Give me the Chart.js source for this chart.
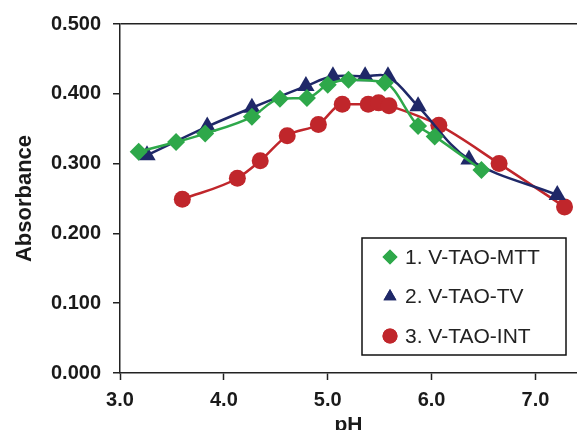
<!DOCTYPE html>
<html>
<head>
<meta charset="utf-8">
<script src="https://cdn.jsdelivr.net/npm/chart.js@4.4.0/dist/chart.umd.min.js"></script>
<style>
	html, body { margin: 0; padding: 0; background: #fff; overflow: hidden; }
</style>
</head>
<body>
<canvas id="myChartPH" width="577" height="438"></canvas>
<script>
// pH values and absorbance for each complex
var phMTT = [3.18, 3.54, 3.82, 4.27, 4.54, 4.80, 5.00, 5.20, 5.55, 5.87, 6.03, 6.48];
var absMTT = [0.317, 0.331, 0.343, 0.367, 0.393, 0.394, 0.413, 0.420, 0.416, 0.354, 0.339, 0.291];

var phTV = [3.26, 3.84, 4.27, 4.79, 5.05, 5.36, 5.58, 5.87, 6.36, 7.21];
var absTV = [0.312, 0.353, 0.380, 0.411, 0.425, 0.425, 0.425, 0.382, 0.306, 0.255];

var phINT = [3.60, 4.13, 4.35, 4.61, 4.91, 5.14, 5.39, 5.49, 5.59, 6.07, 6.65, 7.28];
var absINT = [0.249, 0.279, 0.304, 0.340, 0.356, 0.385, 0.385, 0.387, 0.383, 0.355, 0.300, 0.238];

var seriesNames = ['1. V-TAO-MTT', '2. V-TAO-TV', '3. V-TAO-INT'];
var xTicks = [3, 4, 5, 6, 7];

function toPoints(xs, ys) {
	var out = [];
	xs.forEach(function (x, i) {
		out.push({ x: x, y: ys[i] });
	});
	return out;
}

var green = '#2ea84a';
var navy = '#1f2868';
var red = '#c0262b';
var fontFam = '"Liberation Sans", Arial, sans-serif';

// legend drawn inside the plot, bottom right, boxed
var boxLegend = {
	id: 'boxLegend',
	afterDraw: function (chart) {
		var c = chart.ctx;
		var x0 = 362, y0 = 238, w = 204, h = 117;
		c.save();
		c.fillStyle = '#fff';
		c.fillRect(x0, y0, w, h);
		c.strokeStyle = '#111';
		c.lineWidth = 1.5;
		c.strokeRect(x0, y0, w, h);
		c.font = '21px ' + fontFam;
		c.textBaseline = 'middle';
		chart.data.datasets.forEach(function (ds, i) {
			var cy = y0 + 19 + i * 39.5;
			c.fillStyle = ds.backgroundColor;
			Chart.helpers.drawPoint(c, { pointStyle: ds.pointStyle, radius: 7.5, borderWidth: 0 }, x0 + 28, cy);
			c.fill();
			c.fillStyle = '#222';
			c.fillText(ds.label, x0 + 43, cy + 1);
		});
		c.restore();
	}
};

var ctx = document.getElementById('myChartPH');
var myChart = new Chart(ctx, {
	type: 'line',
	data: {
		datasets: [
			{
				label: seriesNames[0],
				data: toPoints(phMTT, absMTT),
				borderColor: green,
				backgroundColor: green,
				pointStyle: 'rectRot',
				pointRadius: 9,
				pointBorderWidth: 0,
				borderWidth: 2.5,
				cubicInterpolationMode: 'monotone',
			},
			{
				label: seriesNames[1],
				data: toPoints(phTV, absTV),
				borderColor: navy,
				backgroundColor: navy,
				pointStyle: 'triangle',
				pointRadius: 10,
				pointBorderWidth: 0,
				borderWidth: 2.5,
				tension: 0.35,
			},
			{
				label: seriesNames[2],
				data: toPoints(phINT, absINT),
				borderColor: red,
				backgroundColor: red,
				pointStyle: 'circle',
				pointRadius: 8.5,
				pointBorderWidth: 0,
				borderWidth: 2.5,
				cubicInterpolationMode: 'monotone',
			},
		],
	},
	options: {
		responsive: false,
		animation: false,
		layout: { autoPadding: false, padding: { top: 24, right: 0, left: 4, bottom: 0 } },
		plugins: {
			legend: { display: false },
			tooltip: { enabled: false },
		},
		scales: {
			x: {
				type: 'linear',
				min: 3,
				max: 7.4,
				afterBuildTicks: function (scale) {
					scale.ticks = xTicks.map(function (v) { return { value: v }; });
				},
				afterFit: function (scale) { scale.height = 65; },
				ticks: {
					color: '#1a1a1a',
					font: { family: fontFam, size: 20, weight: 'bold' },
					padding: 8,
					maxRotation: 0,
					callback: function (v) { return v.toFixed(1); },
				},
				grid: { drawOnChartArea: false, tickLength: 7, tickColor: '#222', tickWidth: 1.5 },
				border: { color: '#222', width: 1.5 },
				title: {
					display: true,
					text: 'pH',
					color: '#1a1a1a',
					font: { family: fontFam, size: 21, weight: 'bold' },
					padding: { top: 0, bottom: 0 },
				},
			},
			y: {
				min: 0,
				max: 0.5,
				afterFit: function (scale) { scale.width = 116; },
				ticks: {
					stepSize: 0.1,
					color: '#1a1a1a',
					font: { family: fontFam, size: 20, weight: 'bold' },
					padding: 12,
					callback: function (v) { return v.toFixed(3); },
				},
				grid: {
					color: function (c) { return c.tick && c.tick.value === 0.5 ? '#222' : 'rgba(0,0,0,0)'; },
					lineWidth: 1.5,
					tickLength: 7,
					tickColor: '#222',
					tickWidth: 1.5,
				},
				border: { color: '#222', width: 1.5 },
				title: {
					display: true,
					text: 'Absorbance',
					color: '#1a1a1a',
					font: { family: fontFam, size: 22, weight: 'bold' },
					padding: { top: 8, bottom: 4 },
				},
			},
		},
	},
	plugins: [boxLegend],
});
</script>
</body>
</html>
